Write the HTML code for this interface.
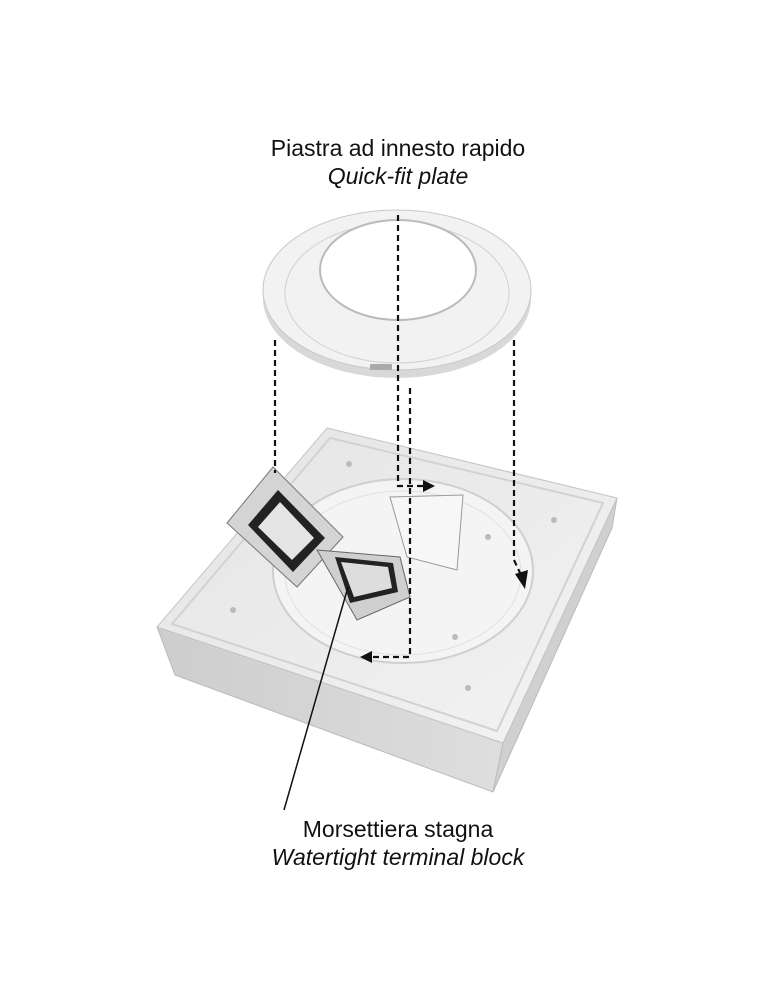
<!DOCTYPE html>
<html><head><meta charset="utf-8"><style>
html,body{margin:0;padding:0;background:#fff;}
svg{display:block;}
text{font-family:"Liberation Sans",sans-serif;fill:#111;}
</style></head><body>
<svg width="771" height="1000" viewBox="0 0 771 1000" xmlns="http://www.w3.org/2000/svg">
<defs>
<linearGradient id="top" x1="0" y1="0" x2="1" y2="1"><stop offset="0" stop-color="#e4e4e4"/><stop offset="1" stop-color="#f3f3f3"/></linearGradient>
<linearGradient id="side" x1="0" y1="0" x2="1" y2="0"><stop offset="0" stop-color="#cdcdcd"/><stop offset="1" stop-color="#dedede"/></linearGradient>
</defs>
<text x="398" y="156" font-size="23" text-anchor="middle">Piastra ad innesto rapido</text>
<text x="398" y="184" font-size="23" text-anchor="middle" font-style="italic">Quick-fit plate</text>

<!-- plate -->
<ellipse cx="397" cy="298" rx="134" ry="80" fill="#d8d8d8"/>
<ellipse cx="397" cy="290" rx="134" ry="80" fill="#f2f2f2" stroke="#c8c8c8"/>
<ellipse cx="397" cy="293" rx="112" ry="70" fill="none" stroke="#d0d0d0"/>
<ellipse cx="398" cy="270" rx="78" ry="50" fill="#fff" stroke="#bbb" stroke-width="2"/>
<rect x="370" y="364" width="22" height="6" fill="#aaa"/>

<!-- box -->
<polygon points="157,627 503,743 493,792 175,675" fill="url(#side)" stroke="#bbb"/>
<polygon points="503,743 617,498 612,528 493,792" fill="#d0d0d0" stroke="#bbb"/>
<polygon points="327,428 617,498 503,743 157,627" fill="url(#top)" stroke="#c4c4c4"/>
<polygon points="330,438 603,503 497,731 172,624" fill="none" stroke="#d2d2d2" stroke-width="2"/>
<ellipse cx="403" cy="571" rx="130" ry="92" fill="#f4f4f4" stroke="#cfcfcf" stroke-width="2"/>
<ellipse cx="403" cy="573" rx="118" ry="82" fill="none" stroke="#e0e0e0"/>
<!-- driver box -->
<polygon points="390,497 463,495 457,570 407,557" fill="#f7f7f7" stroke="#999"/>
<!-- terminal lid -->
<polygon points="227,523 273,467 343,537 297,587" fill="#d4d4d4" stroke="#777"/>
<polygon points="248,525 278,490 325,538 293,572" fill="#222"/>
<polygon points="258,527 280,502 314,538 292,560" fill="#e4e4e4"/>
<!-- terminal base -->
<polygon points="317,550 400,557 410,597 357,620" fill="#cfcfcf" stroke="#666"/>
<polygon points="335,557 393,563 398,592 350,603" fill="#222"/>
<polygon points="341,562 388,567 392,588 354,597" fill="#ddd"/>
<g fill="#bbb"><circle cx="349" cy="464" r="3"/><circle cx="554" cy="520" r="3"/>
<circle cx="233" cy="610" r="3"/><circle cx="468" cy="688" r="3"/><circle cx="488" cy="537" r="3"/><circle cx="455" cy="637" r="3"/></g>

<!-- dashed connectors -->
<g stroke="#111" stroke-width="2.2" stroke-dasharray="6,4" fill="none">
<path d="M275 340 V473"/>
<path d="M398 215 V486 H424"/>
<path d="M410 388 V657 H370"/>
<path d="M514 340 V560 L521 575"/>
</g>
<g fill="#111">
<polygon points="435,486 423,480 423,492"/>
<polygon points="360,657 372,651 372,663"/>
<polygon points="525,589 515,574 528,570"/>
</g>
<line x1="348" y1="587" x2="284" y2="810" stroke="#111" stroke-width="1.5"/>

<text x="398" y="837" font-size="23" text-anchor="middle">Morsettiera stagna</text>
<text x="398" y="865" font-size="23" text-anchor="middle" font-style="italic">Watertight terminal block</text>
</svg>
</body></html>
